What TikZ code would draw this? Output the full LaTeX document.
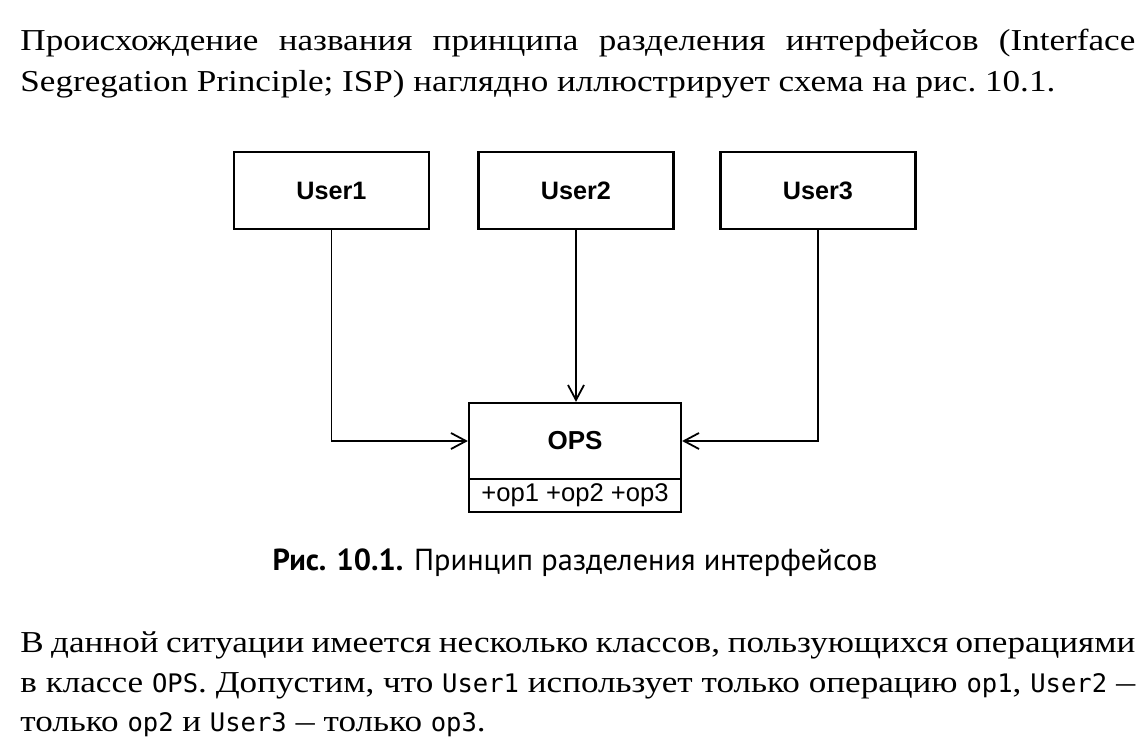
\documentclass[tikz,border=0pt]{standalone}
\usepackage{fontspec}
\setmainfont{Liberation Serif}[FakeStretch=1.155]
\setmonofont{DejaVu Sans Mono}[Scale=0.84]
\newfontfamily\capfont{PT Sans}
\newfontfamily\diafont{Liberation Sans}
\usetikzlibrary{arrows.meta}
\newcommand{\mydash}{\scalebox{0.55}[1]{—}}
\tikzset{
  bodytext/.style={anchor=base west, inner sep=0pt, font=\fontsize{15.2}{18}\selectfont},
  captext/.style={anchor=base, inner sep=0pt, font=\capfont\fontsize{15.2}{18}\selectfont},
  userbox/.style={draw, line width=1.1pt, minimum width=97.5pt, minimum height=38.5pt, inner sep=0pt,
    font=\diafont\bfseries\fontsize{12.6}{15}\selectfont},
  opsbox/.style={draw, line width=1.1pt, minimum width=106pt, minimum height=38pt, inner sep=0pt,
    font=\diafont\bfseries\fontsize{13}{15}\selectfont},
  attrbox/.style={draw, line width=1.1pt, minimum width=106pt, minimum height=16.6pt, inner sep=0pt,
    font=\diafont\fontsize{12.8}{15}\selectfont},
  conn/.style={line width=0.9pt, -{Straight Barb[length=7.5pt,width=8pt,line width=0.9pt]}}
}
\begin{document}
\begin{tikzpicture}[x=0.5pt,y=-0.5pt]
\useasboundingbox (0,0) rectangle (1148,750);
\node[bodytext] (t1) at (20,50) {\makebox[557.5pt][s]{Происхождение названия принципа разделения интерфейсов (Interface}};
\node[bodytext] (t2) at (20,91) {Segregation Principle; ISP) наглядно иллюстрирует схема на рис.~10.1.};

\node[userbox] (u1) at (331.5,190.5) {User1};
\node[userbox] (u2) at (576,190.5) {User2};
\node[userbox] (u3) at (818,190.5) {User3};

\node[opsbox] (ops) at (575,441) {OPS};
\node[attrbox, anchor=north] (attr) at ([yshift=1.1pt]ops.south) {+op1 +op2 +op3};

\draw[conn] (u1.south) |- (ops.west);
\draw[conn] (u2.south) -- (u2.south |- ops.north);
\draw[conn] (u3.south) |- (ops.east);

\node[captext] (cap) at (575,570) {\textbf{Рис. 10.1.} Принцип разделения интерфейсов};

\node[bodytext] (p1) at (20,652) {\makebox[557.5pt][s]{В данной ситуации имеется несколько классов, пользующихся операциями}};
\node[bodytext] (p2) at (20,692) {\makebox[557.5pt][s]{в классе \texttt{OPS}. Допустим, что \texttt{User1} использует только операцию \texttt{op1}, \texttt{User2} \mydash}};
\node[bodytext] (p3) at (20,731) {только \texttt{op2} и \texttt{User3} \mydash{} только \texttt{op3}.};
\end{tikzpicture}
\end{document}
